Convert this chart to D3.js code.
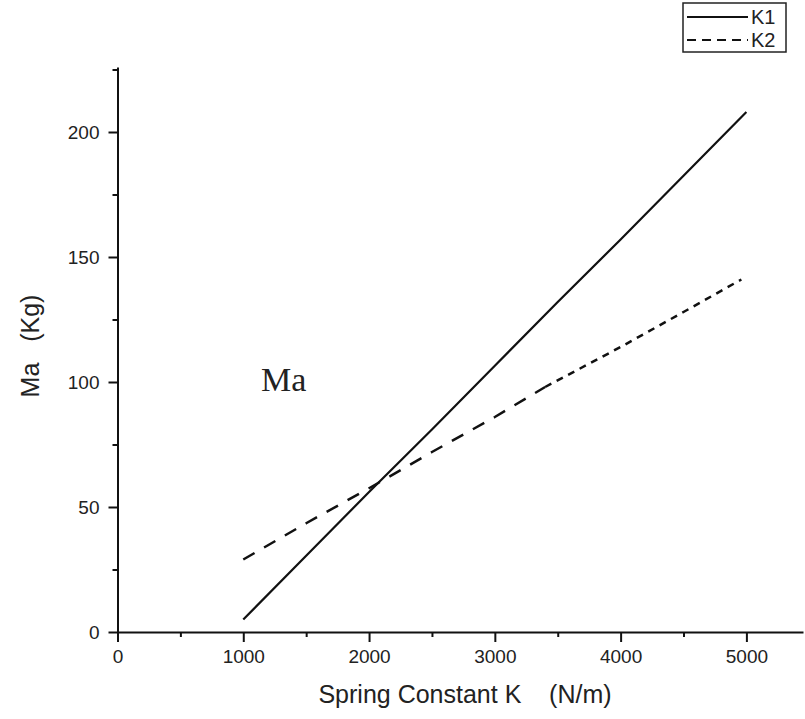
<!DOCTYPE html>
<html>
<head>
<meta charset="utf-8">
<script src="https://cdn.jsdelivr.net/npm/d3@7"></script>
<style>
  body { margin: 0; background: #fff; }
  text { fill: #222; }
</style>
</head>
<body>
<div id="chart"></div>
<script>
// data
const kValues = [1000, 1500, 2000, 2500, 3000, 3500, 4000, 4500, 5000];
const k1Mass = [5, 30.5, 56, 81, 106.5, 132, 157, 182.5, 208];
const k2Values = [1000, 1500, 2000, 2500, 3000, 3400, 4000, 4500, 4960];
const k2Mass = [29, 43.5, 57.5, 72, 86, 98, 114, 128, 141];
const xTicks = [0, 1000, 2000, 3000, 4000, 5000];
const yTicks = [0, 50, 100, 150, 200];
const seriesNames = ["K1", "K2"];

const width = 805;
const height = 719;

const x = d3.scaleLinear().domain([0, 5450]).range([117.5, 803]);
const y = d3.scaleLinear().domain([0, 226]).range([632, 67]);

const svg = d3.select("#chart")
  .append("svg")
  .attr("width", width)
  .attr("height", height)
  .style("font-family", "Liberation Sans, Arial, sans-serif");

// axes
svg.append("g")
  .attr("transform", `translate(0,${y(0)})`)
  .call(d3.axisBottom(x).tickValues(xTicks).tickFormat(d3.format("d"))
    .tickSize(10).tickPadding(8).tickSizeOuter(0));
svg.append("g")
  .attr("transform", `translate(${x(0)},0)`)
  .call(d3.axisLeft(y).tickValues(yTicks).tickFormat(d3.format("d"))
    .tickSize(9).tickPadding(9).tickSizeOuter(0));

// minor ticks
svg.append("g")
  .attr("transform", `translate(0,${y(0)})`)
  .call(d3.axisBottom(x).tickValues(d3.range(500, 5450, 1000)).tickSize(5).tickFormat("").tickSizeOuter(0))
  .select(".domain").remove();
svg.append("g")
  .attr("transform", `translate(${x(0)},0)`)
  .call(d3.axisLeft(y).tickValues(d3.range(25, 226, 50)).tickSize(5).tickFormat("").tickSizeOuter(0))
  .select(".domain").remove();

svg.selectAll(".domain, .tick line")
  .attr("stroke", "#111")
  .attr("stroke-width", 2);
svg.selectAll(".tick text")
  .attr("font-size", 19)
  .attr("font-family", "Liberation Sans, Arial, sans-serif")
  .attr("fill", "#222");

// axis titles
svg.append("text")
  .attr("x", 465)
  .attr("y", 703)
  .attr("text-anchor", "middle")
  .attr("font-size", 25)
  .attr("xml:space", "preserve")
  .text("Spring Constant K    (N/m)");

svg.append("text")
  .attr("transform", `translate(39,346) rotate(-90)`)
  .attr("text-anchor", "middle")
  .attr("font-size", 25)
  .attr("xml:space", "preserve")
  .text("Ma   (Kg)");

// annotation
svg.append("text")
  .attr("x", 261)
  .attr("y", 391)
  .attr("font-family", "Liberation Serif, Times New Roman, serif")
  .attr("font-size", 34)
  .text("Ma");

// lines
const line = d3.line()
  .x(d => x(d[0]))
  .y(d => y(d[1]));

svg.append("path")
  .datum(kValues.map((k, i) => [k, k1Mass[i]]))
  .attr("d", line)
  .attr("fill", "none")
  .attr("stroke", "#111")
  .attr("stroke-width", 2.2);

const k2Pts = k2Values.map((k, i) => [k, k2Mass[i]]);
svg.append("path")
  .datum(k2Pts.filter(d => d[0] <= 3400))
  .attr("d", line)
  .attr("fill", "none")
  .attr("stroke", "#111")
  .attr("stroke-width", 2.5)
  .attr("stroke-dasharray", "13,11");
svg.append("path")
  .datum(k2Pts.filter(d => d[0] >= 3400))
  .attr("d", line)
  .attr("fill", "none")
  .attr("stroke", "#111")
  .attr("stroke-width", 2.5)
  .attr("stroke-dasharray", "7,6");

// legend
const legend = svg.append("g");
legend.append("rect")
  .attr("x", 683).attr("y", 3)
  .attr("width", 103).attr("height", 49)
  .attr("fill", "none")
  .attr("stroke", "#222")
  .attr("stroke-width", 1.5);

seriesNames.forEach((name, i) => {
  const yy = 17 + i * 23;
  legend.append("line")
    .attr("x1", 687).attr("x2", 748)
    .attr("y1", yy).attr("y2", yy)
    .attr("stroke", "#111")
    .attr("stroke-width", 2)
    .attr("stroke-dasharray", i === 1 ? "9,6" : null);
  legend.append("text")
    .attr("x", 751).attr("y", yy + 7)
    .attr("font-size", 20)
    .text(name);
});
</script>
</body>
</html>
